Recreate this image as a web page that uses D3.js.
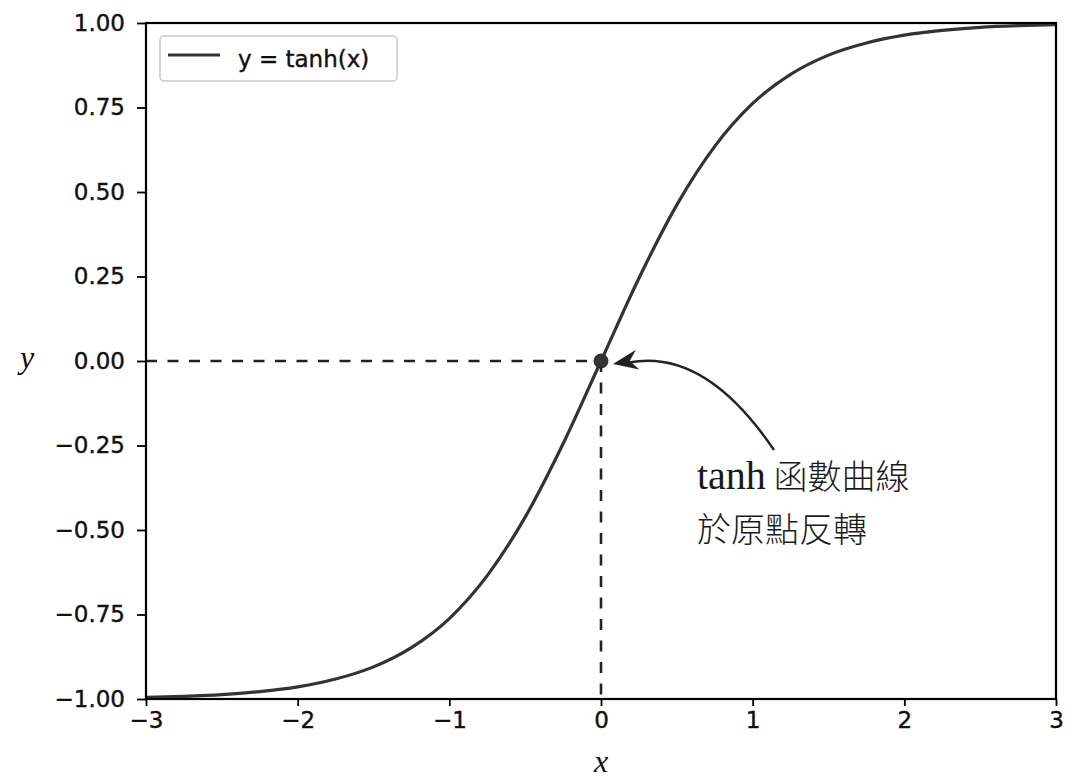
<!DOCTYPE html>
<html><head><meta charset="utf-8">
<script src="https://cdn.jsdelivr.net/npm/d3@7"></script>
<style>body{margin:0;background:#fff}</style>
</head><body><svg id="c" width="1076" height="783"></svg>
<script>
const xs = [-3,-2.75,-2.5,-2.25,-2,-1.75,-1.5,-1.25,-1,-0.75,-0.5,-0.25,0,0.25,0.5,0.75,1,1.25,1.5,1.75,2,2.25,2.5,2.75,3];
const ys = [-0.995,-0.992,-0.987,-0.978,-0.964,-0.941,-0.905,-0.848,-0.762,-0.635,-0.462,-0.245,0,0.245,0.462,0.635,0.762,0.848,0.905,0.941,0.964,0.978,0.987,0.992,0.995];
const xTicks = [-3,-2,-1,0,1,2,3];
const yTicks = [-1,-0.75,-0.5,-0.25,0,0.25,0.5,0.75,1];
const legendLabel = "y = tanh(x)";
const noteLines = [["tanh", " 函數曲線"], ["", "於原點反轉"]];
const origin = [0, 0];

const svg = d3.select("#c");
const L = 146, R = 1056, T = 23, B = 699;
const x = d3.scaleLinear().domain([-3,3]).range([L,R]);
const y = d3.scaleLinear().domain([-1,1]).range([B,T]);

// dashed guides
svg.append("line").attr("x1",x(-3)).attr("x2",x(origin[0])).attr("y1",y(origin[1])).attr("y2",y(origin[1]))
  .attr("stroke","#222").attr("stroke-width",2.6).attr("stroke-dasharray","11,10.5");
svg.append("line").attr("x1",x(origin[0])).attr("x2",x(origin[0])).attr("y1",y(origin[1])).attr("y2",y(-1))
  .attr("stroke","#222").attr("stroke-width",2.6).attr("stroke-dasharray","11,10.5");

// curve
const pts = xs.map((v,i)=>[v,ys[i]]);
svg.append("path").datum(pts)
  .attr("d", d3.line().x(d=>x(d[0])).y(d=>y(d[1])).curve(d3.curveMonotoneX))
  .attr("fill","none").attr("stroke","#333").attr("stroke-width",3.2);

// axes
const fontTick = "DejaVu Sans";
const ax = svg.append("g").attr("transform",`translate(0,${B})`)
  .call(d3.axisBottom(x).tickValues(xTicks).tickSizeInner(7).tickSizeOuter(0).tickPadding(6).tickFormat(d3.format("d")));
const ay = svg.append("g").attr("transform",`translate(${L},0)`)
  .call(d3.axisLeft(y).tickValues(yTicks).tickSizeInner(9).tickSizeOuter(0).tickPadding(12).tickFormat(d3.format(".2f")));
[ax,ay].forEach(g=>{
  g.select(".domain").remove();
  g.selectAll(".tick line").attr("stroke","#000").attr("stroke-width",1.8);
  g.selectAll(".tick text").attr("font-family",fontTick).attr("font-size",23).attr("fill","#111")
    .attr("stroke","#111").attr("stroke-width",0.4);
});
// frame
svg.append("rect").attr("x",L).attr("y",T).attr("width",R-L).attr("height",B-T)
  .attr("fill","none").attr("stroke","#000").attr("stroke-width",2.2);

// axis labels
svg.append("text").attr("x",x(0)).attr("y",772).attr("text-anchor","middle")
  .attr("font-family","Liberation Serif").attr("font-style","italic").attr("font-size",32).attr("fill","#111").text("x");
svg.append("text").attr("x",27).attr("y",368).attr("text-anchor","middle")
  .attr("font-family","Liberation Serif").attr("font-style","italic").attr("font-size",32).attr("fill","#111").text("y");

// origin dot
svg.append("circle").attr("cx",x(origin[0])).attr("cy",y(origin[1])).attr("r",7).attr("fill","#333").attr("stroke","#222");

// annotation arrow
const p0 = [774,450], c = [705,348], p2 = [613,364];
svg.append("path").attr("d",`M${p0[0]},${p0[1]} Q${c[0]},${c[1]} ${p2[0]+16},${p2[1]-1.5}`)
  .attr("fill","none").attr("stroke","#222").attr("stroke-width",2.4);
// arrowhead
const ang = Math.atan2(p2[1]-c[1], p2[0]-c[0]);
const head = [[0,0],[-25,-10],[-17,0],[-25,10]];
svg.append("path").attr("d", "M"+head.map(h=>[p2[0]+h[0]*Math.cos(ang)-h[1]*Math.sin(ang), p2[1]+h[0]*Math.sin(ang)+h[1]*Math.cos(ang)].join(",")).join("L")+"Z")
  .attr("fill","#222");

// annotation text
const nt = svg.append("g");
noteLines.forEach((ln,i)=>{
  const t = nt.append("text").attr("x",697).attr("y",489+i*53).attr("fill","#1a1a1a");
  if (ln[0]) t.append("tspan").attr("font-family","Liberation Serif").attr("font-size",40).text(ln[0]);
  t.append("tspan").attr("font-family","Noto Sans CJK TC").attr("font-size",34).attr("font-weight",300).text(ln[1]);
});

// legend
svg.append("rect").attr("x",160).attr("y",36).attr("width",237).attr("height",45).attr("rx",4)
  .attr("fill","#fff").attr("stroke","#c8c8c8").attr("stroke-width",1.5);
svg.append("line").attr("x1",168).attr("x2",220).attr("y1",55).attr("y2",55).attr("stroke","#333").attr("stroke-width",3);
svg.append("text").attr("x",238).attr("y",67).attr("font-family",fontTick).attr("font-size",23).attr("fill","#111")
  .attr("stroke","#111").attr("stroke-width",0.4).text(legendLabel);
</script></body></html>
